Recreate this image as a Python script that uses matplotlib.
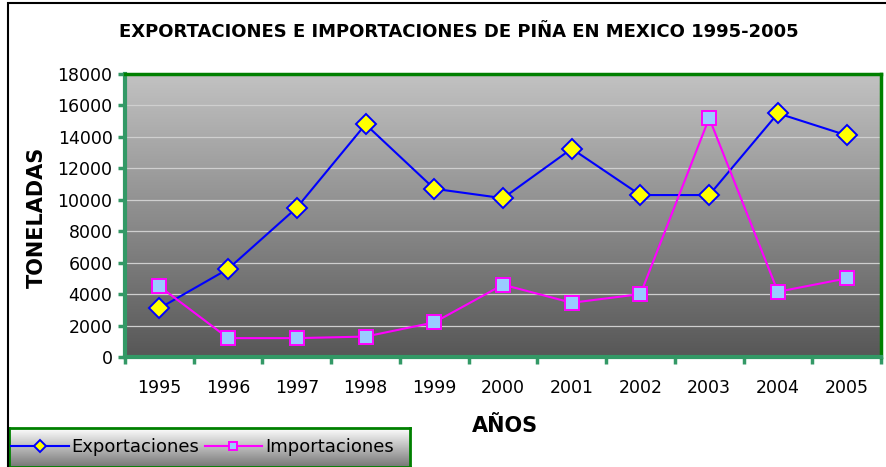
import numpy as np
import matplotlib
matplotlib.use('Agg')
import matplotlib.pyplot as plt
from matplotlib.patches import Rectangle

years = ['1995', '1996', '1997', '1998', '1999', '2000', '2001', '2002', '2003', '2004', '2005']
exportaciones = [3100, 5600, 9500, 14800, 10700, 10100, 13250, 10300, 10300, 15500, 14100]
importaciones = [4500, 1200, 1200, 1300, 2200, 4600, 3450, 4000, 15200, 4150, 5000]
y_ticks = list(range(0, 18001, 2000))

plt.rcParams['font.family'] = ['DejaVu Sans']

fig = plt.figure(figsize=(8.86, 4.67), dpi=100)
# outer chart frame
fig.patches.append(Rectangle((8 / 886, -0.01), 1.0, 1 - 3 / 467 + 0.01, transform=fig.transFigure,
                             fill=False, edgecolor='black', linewidth=1.5))

ax = fig.add_axes([125 / 886, 1 - 357 / 467, (881 - 125) / 886, (357 - 74) / 467])
x = np.arange(len(years))

# gradient plot area
grad = np.linspace(0, 1, 256).reshape(-1, 1)
ax.imshow(grad, extent=[0, 1, 0, 1], transform=ax.transAxes, aspect='auto',
          cmap=matplotlib.colors.LinearSegmentedColormap.from_list('g', ['#c2c2c2', '#575757']),
          zorder=0)

for v in y_ticks[1:-1]:
    ax.axhline(v, color='#cfcfcf', linewidth=0.9, zorder=1)

ax.plot(x, exportaciones, color='#0000ff', linewidth=1.5, marker='D', markersize=10.5,
        markerfacecolor='#ffff00', markeredgecolor='#0000ff', markeredgewidth=1.4,
        label='Exportaciones', zorder=3)
ax.plot(x, importaciones, color='#ff00ff', linewidth=1.5, marker='s', markersize=9.5,
        markerfacecolor='#99ccff', markeredgecolor='#ff00ff', markeredgewidth=1.4,
        label='Importaciones', zorder=3)

ax.set_xlim(-0.5, len(years) - 0.5)
ax.set_ylim(0, 18000)
ax.set_yticks(y_ticks)
ax.set_yticklabels([str(v) for v in y_ticks], fontsize=12.5)
ax.set_xticks(x)
ax.set_xticklabels(years, fontsize=12.5)
ax.set_xticks(np.arange(-0.5, len(years)), minor=True)
ax.tick_params(axis='x', which='major', length=0, pad=16)
ax.tick_params(axis='x', which='minor', length=5, width=2.5, color='#339966')
ax.tick_params(axis='y', length=5, width=2.5, color='#339966', pad=4)

for side in ['left', 'bottom']:
    ax.spines[side].set_color('#339966')
    ax.spines[side].set_linewidth(3)
for side in ['top', 'right']:
    ax.spines[side].set_color('#008000')
    ax.spines[side].set_linewidth(2.5)

ax.set_ylabel('TONELADAS', fontsize=15, fontweight='bold')
ax.yaxis.set_label_coords(-0.104, 0.495)
ax.set_xlabel('AÑOS', fontsize=15, fontweight='bold')
ax.xaxis.set_label_coords(0.503, -0.208)
fig.text(0.518, 1 - 32 / 467, 'EXPORTACIONES E IMPORTACIONES DE PIÑA EN MEXICO 1995-2005',
         ha='center', va='center', fontsize=13, fontweight='bold')

# legend with gradient box
lax = fig.add_axes([9 / 886, 0, (410 - 9) / 886, (467 - 428) / 467])
lax.imshow(np.linspace(0, 1, 256).reshape(-1, 1), extent=[0, 1, 0, 1], aspect='auto',
           cmap=matplotlib.colors.LinearSegmentedColormap.from_list('l', ['#ffffff', '#767676']))
lax.set_xticks([])
lax.set_yticks([])
for s in lax.spines.values():
    s.set_color('#008000')
    s.set_linewidth(2)
handles, labels = ax.get_legend_handles_labels()
leg = lax.legend(handles, labels, loc='center left', bbox_to_anchor=(0.0, 0.5), ncol=2,
                 frameon=False, fontsize=13, handlelength=3.2, handletextpad=0.15,
                 columnspacing=0.3, borderpad=0, borderaxespad=0.1, markerscale=0.55)

fig.savefig('out.png', dpi=100)
